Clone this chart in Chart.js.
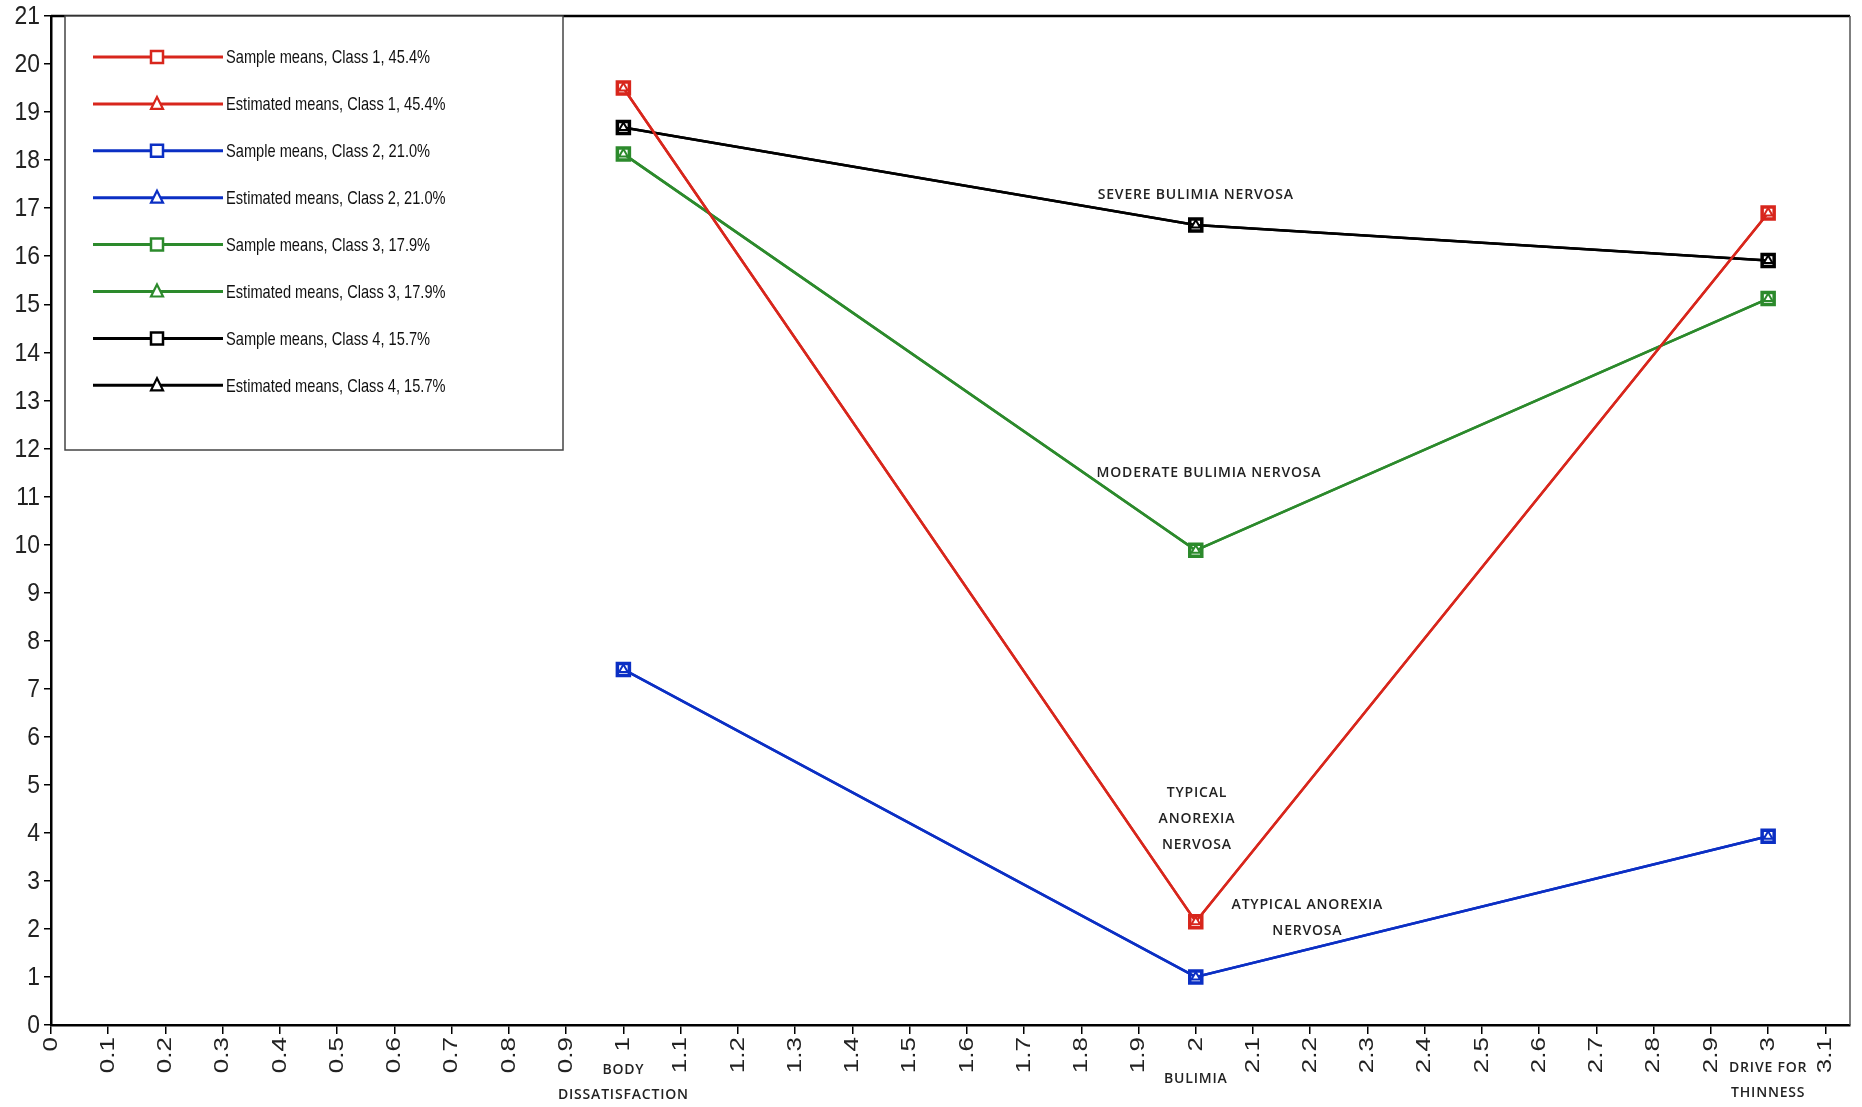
<!DOCTYPE html>
<html lang="en">
<head>
<meta charset="UTF-8">
<title>Class means</title>
<style>
  html, body { margin: 0; padding: 0; background: #fff; }
</style>
</head>
<body>
<canvas id="myChart" width="1862" height="1107"></canvas>

<script src="https://cdn.jsdelivr.net/npm/chart.js@4.4.1/dist/chart.umd.min.js"></script>
<script>
// ---- data ----
var xPositions = [1, 2, 3];
var categories = [['BODY', 'DISSATISFACTION'], ['BULIMIA'], ['DRIVE FOR', 'THINNESS']];

var sampleClass1 = [19.5, 2.15, 16.9];
var estimatedClass1 = [19.5, 2.15, 16.9];
var sampleClass2 = [7.4, 1.0, 3.93];
var estimatedClass2 = [7.4, 1.0, 3.93];
var sampleClass3 = [18.13, 9.88, 15.12];
var estimatedClass3 = [18.13, 9.88, 15.12];
var sampleClass4 = [18.68, 16.65, 15.91];
var estimatedClass4 = [18.68, 16.65, 15.91];

var seriesNames = [
  'Sample means, Class 1, 45.4%', 'Estimated means, Class 1, 45.4%',
  'Sample means, Class 2, 21.0%', 'Estimated means, Class 2, 21.0%',
  'Sample means, Class 3, 17.9%', 'Estimated means, Class 3, 17.9%',
  'Sample means, Class 4, 15.7%', 'Estimated means, Class 4, 15.7%'
];

var xTickValues = [0, 0.1, 0.2, 0.3, 0.4, 0.5, 0.6, 0.7, 0.8, 0.9, 1, 1.1, 1.2, 1.3, 1.4, 1.5,
  1.6, 1.7, 1.8, 1.9, 2, 2.1, 2.2, 2.3, 2.4, 2.5, 2.6, 2.7, 2.8, 2.9, 3, 3.1];
var xTickLabels = ['0', '0.1', '0.2', '0.3', '0.4', '0.5', '0.6', '0.7', '0.8', '0.9', '1', '1.1', '1.2',
  '1.3', '1.4', '1.5', '1.6', '1.7', '1.8', '1.9', '2', '2.1', '2.2', '2.3', '2.4', '2.5', '2.6', '2.7',
  '2.8', '2.9', '3', '3.1'];

// text notes placed in data units
var notes = [
  { x: 2.0, y: 17.28, lines: ['SEVERE BULIMIA NERVOSA'] },
  { x: 2.023, y: 11.48, lines: ['MODERATE BULIMIA NERVOSA'] },
  { x: 2.002, y: 4.82, lines: ['TYPICAL', 'ANOREXIA', 'NERVOSA'] },
  { x: 2.195, y: 2.49, lines: ['ATYPICAL ANOREXIA', 'NERVOSA'] }
];

// ---- styles ----
var RED = '#d8261c', BLUE = '#0b2fc4', GREEN = '#2c8a2c', BLACK = '#000000';
var classColors = [RED, RED, BLUE, BLUE, GREEN, GREEN, BLACK, BLACK];
var allSeries = [sampleClass1, estimatedClass1, sampleClass2, estimatedClass2,
  sampleClass3, estimatedClass3, sampleClass4, estimatedClass4];
var catShift = [4, 0, 2]; // small vertical nudges for the category names

function toPoints(vals) {
  return vals.map(function (v, i) { return { x: xPositions[i], y: v }; });
}

var datasets = allSeries.map(function (vals, i) {
  var isSample = i % 2 === 0;
  return {
    label: seriesNames[i],
    data: toPoints(vals),
    borderColor: classColors[i],
    backgroundColor: '#ffffff',
    borderWidth: 2.5,
    pointStyle: isSample ? 'rect' : 'triangle',
    pointRadius: isSample ? 8.5 : 5,
    pointBorderWidth: isSample ? 3.5 : 2,
    pointBackgroundColor: '#ffffff',
    pointBorderColor: classColors[i],
    order: isSample ? 1 : 0,
    tension: 0
  };
});

function drawMarker(ctx, style, x, y, color) {
  ctx.save();
  ctx.strokeStyle = color;
  ctx.fillStyle = '#fff';
  ctx.beginPath();
  if (style === 'rect') {
    ctx.lineWidth = 2.5;
    ctx.rect(x - 6, y - 6, 12, 12);
  } else {
    ctx.lineWidth = 2.2;
    ctx.moveTo(x, y - 7);
    ctx.lineTo(x + 6, y + 5);
    ctx.lineTo(x - 6, y + 5);
    ctx.closePath();
  }
  ctx.fill();
  ctx.stroke();
  ctx.restore();
}

var extras = {
  id: 'extras',
  afterDraw: function (chart) {
    var ctx = chart.ctx, area = chart.chartArea;
    var xs = chart.scales.x, ys = chart.scales.y;

    // frame: top and right
    ctx.save();
    ctx.strokeStyle = '#000';
    ctx.lineWidth = 2.5;
    ctx.beginPath();
    ctx.moveTo(area.left, area.top);
    ctx.lineTo(area.right, area.top);
    ctx.stroke();
    ctx.strokeStyle = '#555';
    ctx.lineWidth = 1.5;
    ctx.beginPath();
    ctx.moveTo(area.right, area.top);
    ctx.lineTo(area.right, area.bottom);
    ctx.stroke();
    ctx.restore();

    // y tick labels, a bit condensed
    ctx.save();
    ctx.fillStyle = '#222';
    ctx.font = '26px "Liberation Sans", Arial, sans-serif';
    ctx.textAlign = 'right';
    ctx.textBaseline = 'middle';
    ys.ticks.forEach(function (t) {
      var py = ys.getPixelForValue(t.value);
      ctx.save();
      ctx.translate(area.left - 11, py + 1);
      ctx.scale(0.88, 1);
      ctx.fillText(String(t.value), 0, 0);
      ctx.restore();
    });
    ctx.restore();

    // x tick labels, rotated
    ctx.save();
    ctx.fillStyle = '#222';
    ctx.font = '26px "Liberation Sans", Arial, sans-serif';
    ctx.textAlign = 'right';
    ctx.textBaseline = 'middle';
    xTickValues.forEach(function (v, i) {
      var px = xs.getPixelForValue(v);
      ctx.save();
      ctx.translate(px, area.bottom + 12);
      ctx.rotate(-Math.PI / 2);
      ctx.scale(1, 0.8);
      ctx.fillText(xTickLabels[i], 0, 0);
      ctx.restore();
    });
    ctx.restore();

    // category names under the axis
    ctx.save();
    ctx.fillStyle = '#222';
    ctx.font = '600 14px "Open Sans", sans-serif';
    ctx.letterSpacing = '0.8px';
    ctx.textAlign = 'center';
    ctx.textBaseline = 'middle';
    categories.forEach(function (lines, i) {
      var px = xs.getPixelForValue(xPositions[i]);
      var cy = area.bottom + 54 + catShift[i];
      var y0 = cy - (lines.length - 1) * 25 / 2;
      lines.forEach(function (t, j) { ctx.fillText(t, px, y0 + j * 25); });
    });

    // notes
    notes.forEach(function (n) {
      var px = xs.getPixelForValue(n.x), py = ys.getPixelForValue(n.y);
      n.lines.forEach(function (t, j) { ctx.fillText(t, px, py + j * 26); });
    });
    ctx.restore();

    // legend box
    ctx.save();
    ctx.fillStyle = '#fff';
    ctx.fillRect(area.left + 14, area.top, 498, 434);
    ctx.strokeStyle = '#444';
    ctx.lineWidth = 1.5;
    ctx.strokeRect(area.left + 14, area.top, 498, 434);
    ctx.font = '19px "Liberation Sans", Arial, sans-serif';
    ctx.textAlign = 'left';
    ctx.textBaseline = 'middle';
    datasets.forEach(function (d, i) {
      var y = area.top + 41 + i * 46.9;
      ctx.strokeStyle = d.borderColor;
      ctx.lineWidth = 3;
      ctx.beginPath();
      ctx.moveTo(area.left + 42, y);
      ctx.lineTo(area.left + 172, y);
      ctx.stroke();
      drawMarker(ctx, d.pointStyle, area.left + 106, y, d.borderColor);
      ctx.save();
      ctx.fillStyle = '#111';
      ctx.translate(area.left + 175, y + 1);
      ctx.scale(0.77, 1);
      ctx.fillText(d.label, 0, 0);
      ctx.restore();
    });
    ctx.restore();
  }
};

var ctx = document.getElementById('myChart').getContext('2d');
var chart = new Chart(ctx, {
  type: 'line',
  data: { datasets: datasets },
  plugins: [extras],
  options: {
    responsive: false,
    animation: false,
    devicePixelRatio: 1,
    layout: { padding: { top: 16, right: 12, left: 0, bottom: 0 } },
    plugins: { legend: { display: false }, tooltip: { enabled: false } },
    scales: {
      x: {
        type: 'linear',
        min: 0,
        max: 3.143,
        afterBuildTicks: function (s) {
          s.ticks = xTickValues.map(function (v) { return { value: v }; });
        },
        afterFit: function (s) { s.height = 82; },
        ticks: { autoSkip: false, maxRotation: 0, color: 'rgba(0,0,0,0)', font: { size: 8 } },
        grid: { drawOnChartArea: false, drawTicks: true, tickLength: 9, color: '#000', lineWidth: 1.5 },
        border: { display: true, color: '#000', width: 2.5 }
      },
      y: {
        min: 0,
        max: 21,
        afterFit: function (s) { s.width = 51; },
        ticks: {
          stepSize: 1,
          color: 'rgba(0,0,0,0)',
          padding: 4,
          font: { size: 8 }
        },
        grid: { drawOnChartArea: false, drawTicks: true, tickLength: 7, color: '#000', lineWidth: 1.5 },
        border: { display: true, color: '#000', width: 2.5 }
      }
    }
  }
});
</script>
</body>
</html>
